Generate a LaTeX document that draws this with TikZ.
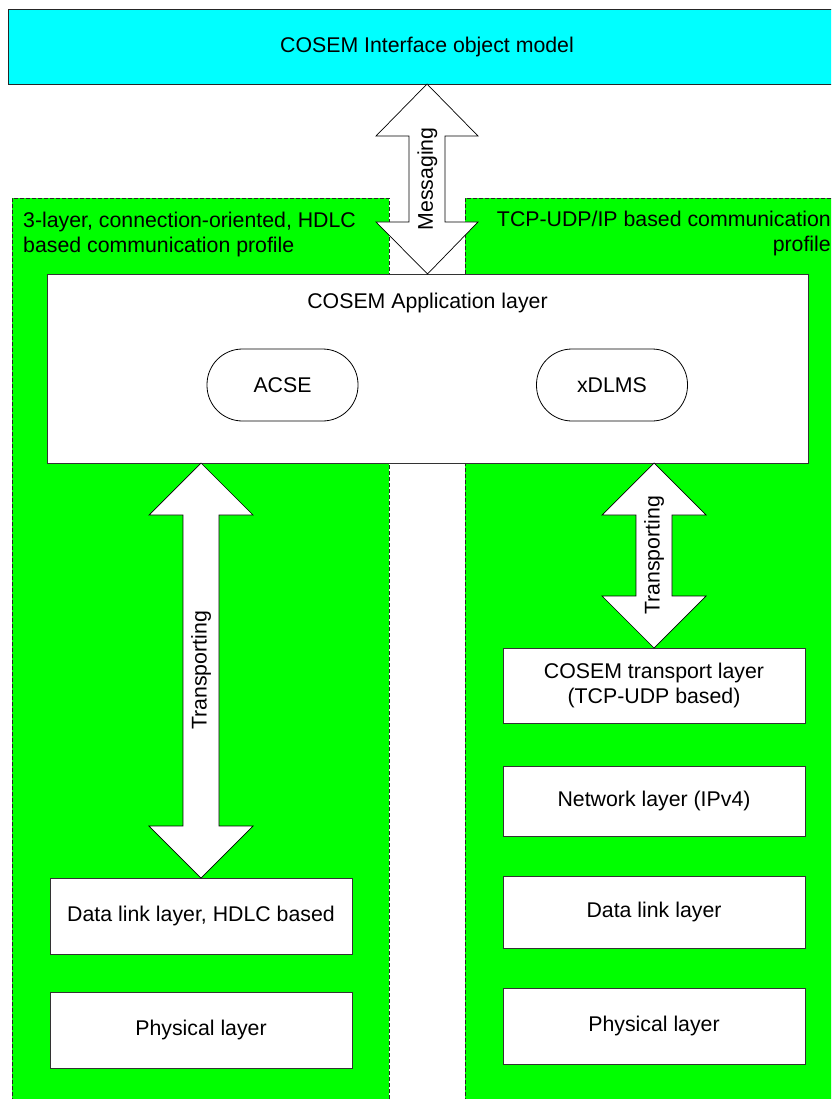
\documentclass[tikz,border=0pt]{standalone}
\usepackage{fontspec}
\setmainfont{Liberation Sans}
\usetikzlibrary{calc}
\definecolor{cyanfill}{RGB}{0,255,255}
\definecolor{greenfill}{RGB}{0,255,0}
\newcommand\blockarrow[5]{%
  \draw[barrow] let \p1=(#1), \p2=(#2) in
    (\x1,\y1) -- (\x1+#4pt,\y1-#5pt) -- (\x1+#3pt,\y1-#5pt) -- (\x1+#3pt,\y2+#5pt)
    -- (\x1+#4pt,\y2+#5pt) -- (\x2,\y2) -- (\x1-#4pt,\y2+#5pt) -- (\x1-#3pt,\y2+#5pt)
    -- (\x1-#3pt,\y1-#5pt) -- (\x1-#4pt,\y1-#5pt) -- cycle;}
\begin{document}
\begin{tikzpicture}[x=1pt,y=-1pt,
  every node/.style={font=\fontsize{21.3}{24.5}\selectfont},
  panel/.style={fill=greenfill, draw=black!85, dash pattern=on 4pt off 2pt, line width=0.8pt, anchor=north west, inner sep=0pt, outer sep=0pt},
  topbox/.style={fill=cyanfill, draw=black!85, line width=0.9pt, anchor=north west, inner sep=0pt, outer sep=0pt},
  layerbox/.style={fill=white, draw=black!80, line width=0.9pt, anchor=north west, inner sep=0pt, outer sep=0pt, align=center, minimum width=302pt},
  stadium/.style={fill=white, draw=black, line width=0.8pt, rounded corners=35.5pt, minimum width=151pt, minimum height=72pt, inner sep=0pt, outer sep=0pt},
  barrow/.style={fill=white, draw=black, line width=0.7pt, line join=miter},
  paneltext/.style={inner sep=0pt}
]
\useasboundingbox (0,0) rectangle (831,1099);
\clip (0,0) rectangle (831,1099);

% top box
\node[topbox, minimum width=838pt, minimum height=75pt] (cosem) at (8,9) {COSEM Interface object model};

% panels
\node[panel, minimum width=377pt, minimum height=920pt] (lp) at (12,198) {};
\node[panel, minimum width=380pt, minimum height=920pt] (rp) at (465,198) {};
\node[paneltext, anchor=north west, align=left] (lptext) at (23,212) {3-layer, connection-oriented, HDLC\\based communication profile};
\node[paneltext, anchor=north east, align=right] (rptext) at (831,211) {TCP-UDP/IP based communication\\profile};

% application layer
\node[layerbox, minimum width=761pt, minimum height=189pt] (app) at (47,274) {};
\node[inner sep=0pt] (applbl) at ($(app.north)+(0,29)$) {COSEM Application layer};
\node[stadium] (acse) at (282.5,385) {ACSE};
\node[stadium] (xdlms) at (612,385) {xDLMS};

% left stack
\node[layerbox, minimum height=76pt] (dl1) at (50,878) {Data link layer, HDLC based};
\node[layerbox, minimum height=76pt] (ph1) at (50,992) {Physical layer};

% right stack
\node[layerbox, minimum height=75pt] (tr) at (503,648) {COSEM transport layer\\(TCP-UDP based)};
\node[layerbox, minimum height=70pt] (net) at (503,766) {Network layer (IPv4)};
\node[layerbox, minimum height=72pt] (dl2) at (503,876) {Data link layer};
\node[layerbox, minimum height=76pt] (ph2) at (503,988) {Physical layer};

% block arrows
\coordinate (msgT) at (cosem.south);
\coordinate (msgB) at (app.north);
\coordinate (lT) at (dl1.north |- app.south);
\coordinate (rT) at (tr.north |- app.south);
\blockarrow{msgT}{msgB}{18}{51}{52}
\blockarrow{lT}{dl1.north}{18}{52}{52}
\blockarrow{rT}{tr.north}{18}{52}{52}
\node[rotate=90, inner sep=0pt] (msglbl) at ($(msgT)!0.5!(msgB)$) {Messaging};
\node[rotate=90, inner sep=0pt] (llbl) at ($(lT)!0.5!(dl1.north)$) {Transporting};
\node[rotate=90, inner sep=0pt] (rlbl) at ($(rT)!0.5!(tr.north)$) {Transporting};
\end{tikzpicture}
\end{document}
